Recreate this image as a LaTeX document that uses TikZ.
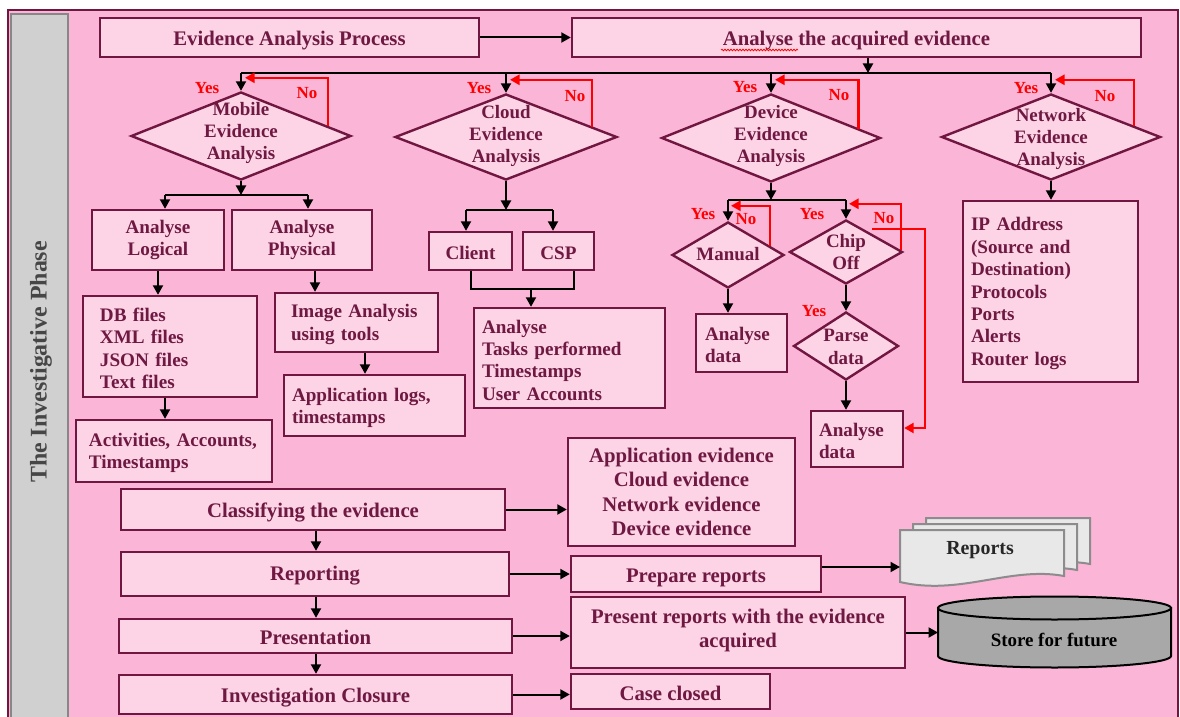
\documentclass[tikz,border=0pt]{standalone}
\usepackage{fontspec}
\setmainfont{Liberation Serif}
\usetikzlibrary{arrows.meta,calc,shapes.geometric,decorations.pathmorphing}
\definecolor{frame}{RGB}{112,22,64}
\definecolor{bg}{RGB}{251,181,214}
\definecolor{fillp}{RGB}{253,212,230}
\definecolor{ink}{RGB}{110,24,66}
\definecolor{sideg}{RGB}{208,208,208}
\definecolor{sideline}{RGB}{135,135,135}
\definecolor{sidetext}{RGB}{70,70,70}
\definecolor{docg}{RGB}{232,232,232}
\definecolor{docline}{RGB}{140,140,140}
\definecolor{cylg}{RGB}{168,168,168}
\tikzset{
  box/.style={draw=frame, line width=2.4bp, fill=fillp, text=ink,
    font=\bfseries\fontsize{19.2}{22.5}\selectfont, inner sep=0pt, align=center,
    execute at begin node={\rule{0pt}{17.5bp}}},
  lbox/.style={box, align=left},
  big/.style={font=\bfseries\fontsize{20.8}{24.5}\selectfont},
  low/.style={text height=16bp, text depth=0bp},
  sz/.style 2 args={minimum width=#1bp, minimum height=#2bp},
  dia/.style={diamond, draw=frame, line width=2.4bp, fill=fillp, inner sep=0pt},
  dtext/.style={text=ink, font=\bfseries\fontsize{19}{22.5}\selectfont, align=center, inner sep=0pt,
    execute at begin node={\rule{0pt}{17.5bp}}},
  yn/.style={text=red, font=\bfseries\fontsize{17}{20}\selectfont, inner sep=0pt},
  wire/.style={draw=black, line width=2bp},
  arr/.style={draw=black, line width=2bp, -{Triangle[length=9.5bp,width=10bp]}},
  noarr/.style={draw=red, line width=2.4bp, -{Triangle[length=9.5bp,width=10bp]}},
  docst/.style={draw=docline, fill=docg, line width=2bp},
}
\begin{document}
\begin{tikzpicture}[x=1bp,y=-1bp]
\useasboundingbox (0,0) rectangle (1180,717);
\fill[white] (0,0) rectangle (1180,717);
% frame and phase column
\draw[draw=frame, line width=2bp, fill=bg] (8,10) rectangle (1178,740);
\draw[draw=sideline, line width=2bp, fill=sideg] (11,14) rectangle (68,740);
\node[rotate=90, text=sidetext, font=\bfseries\fontsize{24}{28}\selectfont, inner sep=0pt] (phase) at (41,362) {The Investigative Phase};

% top row
\node[box,big,low,sz={379}{39}] (evp) at (289.5,37.5) {Evidence Analysis Process};
\node[box,big,low,sz={569}{39}] (acq) at (856.5,37.5) {Analyse the acquired evidence};
\draw[red, line width=0.8bp, decorate, decoration={snake, amplitude=0.8bp, segment length=3bp}] (721,50) -- (798,50);
\draw[arr] (evp) -- (acq);
\coordinate (acqD) at (868,73);
\draw[arr] (acq.south -| acqD) -- (acqD);

% the four analysis decisions
\node[dia, sz={220}{88}] (mob) at (241,136) {};
\node[dtext] (mobT) at (241,133) {Mobile\\Evidence\\Analysis};
\node[dia, sz={222}{86}] (cld) at (506,137) {};
\node[dtext] (cldT) at (506,136) {Cloud\\Evidence\\Analysis};
\node[dia, sz={219}{88}] (dev) at (771,138) {};
\node[dtext] (devT) at (771,136) {Device\\Evidence\\Analysis};
\node[dia, sz={219}{86}] (net) at (1051,137) {};
\node[dtext] (netT) at (1051,139) {Network\\Evidence\\Analysis};

\coordinate (bus1) at (241,73);
\coordinate (bus4) at (1051,73);
\draw[wire] (bus1) -- (bus4);
\foreach \d in {mob,cld,dev,net} \draw[arr] (\d.north |- bus1) -- (\d.north);

\foreach \d/\f in {mob/0.78, cld/0.766, dev/0.79, net/0.75} {
  \coordinate (\d-nos) at ($(\d.north)!\f!(\d.east)$);
  \coordinate (\d-not) at ($(\d.north)+(4,-13)$);
  \draw[noarr] (\d-nos) |- (\d-not);
}
\node[yn] (yM) at (207,88) {Yes};  \node[yn] (nM) at (307,93) {No};
\node[yn] (yC) at (479,88) {Yes};  \node[yn] (nC) at (575,96) {No};
\node[yn] (yD) at (745,87) {Yes};  \node[yn] (nD) at (839,95) {No};
\node[yn] (yN) at (1026,88) {Yes}; \node[yn] (nN) at (1105,96) {No};

% mobile branch
\coordinate (mbus) at (241,195);
\coordinate (mbL) at (165,195);
\coordinate (mbR) at (308,195);
\draw[arr] (mob.south) -- (mbus);
\draw[wire] (mbL) -- (mbR);
\node[box, sz={132}{60}] (logi) at (158,240) {Analyse\\Logical};
\node[box, sz={140}{60}] (phys) at (302,240) {Analyse\\Physical};
\draw[arr] (mbL) -- (mbL |- logi.north);
\draw[arr] (mbR) -- (mbR |- phys.north);
\node[lbox, sz={174}{101}, inner xsep=17bp, text width=140bp] (dbf) at (170,346.5) {DB files\\XML files\\JSON files\\Text files};
\node[lbox, sz={196}{62}, inner xsep=13bp, text width=170bp] (act) at (174,451) {Activities, Accounts,\\Timestamps};
\draw[arr] (logi.south) -- (logi.south |- dbf.north);
\coordinate (dbfD) at ($(dbf.south)+(-5,0)$);
\draw[arr] (dbfD) -- (dbfD |- act.north);
\node[lbox, sz={163}{59}, inner xsep=16bp, text width=131bp] (img) at (356.5,322.5) {Image Analysis\\using tools};
\node[lbox, sz={181}{61}, inner xsep=8bp, text width=165bp] (app) at (374.5,405.5) {Application logs,\\timestamps};
\coordinate (physD) at ($(phys.south)+(13,0)$);
\draw[arr] (physD) -- (physD |- img.north);
\coordinate (imgD) at ($(img.south)+(8.5,0)$);
\draw[arr] (imgD) -- (imgD |- app.north);

% cloud branch
\coordinate (cbus) at (506,210);
\coordinate (cbL) at (466,210);
\coordinate (cbR) at (553,210);
\draw[arr] (cld.south) -- (cbus);
\draw[wire] (cbL) -- (cbR);
\node[box, sz={83}{38}] (cli) at (470.5,251) {Client};
\node[box, sz={71}{38}] (csp) at (558.5,251) {CSP};
\draw[arr] (cbL) -- (cbL |- cli.north);
\draw[arr] (cbR) -- (cbR |- csp.north);
\coordinate (cjR) at (574,289);
\coordinate (cjM) at (531,289);
\draw[wire] (cli.south) |- (cjR) -- (cjR |- csp.south);
\node[lbox, sz={191}{100}, inner xsep=8bp, text width=175bp] (tsk) at (569.5,358) {Analyse\\Tasks performed\\Timestamps\\User Accounts};
\draw[arr] (cjM) -- (cjM |- tsk.north);

% device branch
\coordinate (dbus) at (771,200);
\draw[arr] (dev.south) -- (dbus);
\node[dia, sz={112}{66}] (man) at (728,255) {};
\node[dtext] (manT) at (728,252) {Manual};
\node[dia, sz={113}{64}] (chp) at (846,252) {};
\node[dtext] (chpT) at (846,252) {Chip\\Off};
\draw[wire] (man.north |- dbus) -- (chp.north |- dbus);
\draw[arr] (man.north |- dbus) -- (man.north);
\draw[arr] (chp.north |- dbus) -- (chp.north);
\coordinate (man-nos) at ($(man.north)!0.73!(man.east)$);
\coordinate (man-not) at ($(man.north)+(3,-15)$);
\draw[noarr] (man-nos) |- (man-not);
\coordinate (chp-nos) at ($(chp.north)!0.95!(chp.east)$);
\coordinate (chp-not) at ($(chp.north)+(3,-15)$);
\draw[noarr] (chp-nos) |- (chp-not);
\node[yn] (yMa) at (703,214) {Yes}; \node[yn] (nMa) at (746,219) {No};
\node[yn] (yCh) at (812,214) {Yes}; \node[yn] (nCh) at (884,218) {No};

\node[lbox, sz={91}{58}, inner xsep=9bp, text width=73bp] (ana1) at (741.5,343) {Analyse\\data};
\draw[arr] (man.south) -- (man.south |- ana1.north);
\node[dia, sz={105}{68}] (prs) at (846,346) {};
\node[dtext] (prsT) at (846,347) {Parse\\data};
\draw[arr] (chp.south) -- (prs.north);
\node[yn] (yPa) at (814,311) {Yes};
\node[lbox, sz={92}{56}, inner xsep=8bp, text width=76bp] (ana2) at (857,439) {Analyse\\data};
\draw[arr] (prs.south) -- (prs.south |- ana2.north);
\coordinate (chpR) at (872,229);
\coordinate (chpC) at (925,229);
\coordinate (ana2In) at ($(ana2.east)+(0,-11)$);
\draw[noarr] (chpR) -- (chpC) |- (ana2In);

% network branch
\node[lbox, sz={175}{181}, inner xsep=8bp, text width=159bp] (nbx) at (1050.5,291.5) {IP Address\\(Source and\\Destination)\\Protocols\\Ports\\Alerts\\Router logs};
\draw[arr] (net.south) -- (net.south |- nbx.north);

% closing stages
\node[box,big,low,sz={384}{41}] (cls) at (313,509.5) {Classifying the evidence};
\node[box,big,sz={388}{44}] (rep) at (315,574) {Reporting};
\node[box,big,low,sz={393}{34}] (pre) at (315.5,636) {Presentation};
\node[box,big,low,sz={393}{39}] (inv) at (315.5,694.5) {Investigation Closure};
\coordinate (vx) at (316,0);
\draw[arr] (cls.south -| vx) -- (rep.north -| vx);
\draw[arr] (rep.south -| vx) -- (pre.north -| vx);
\draw[arr] (pre.south -| vx) -- (inv.north -| vx);

\node[box,big,sz={227}{108}] (evl) at (681.5,492) {Application evidence\\Cloud evidence\\Network evidence\\Device evidence};
\node[box,big,low,sz={250}{36}] (prp) at (696,574) {Prepare reports};
\node[box,big,sz={334}{71}, execute at begin node={}] (pst) at (738,632.5) {Present reports with the evidence\\acquired\rule[-8bp]{0pt}{0pt}};
\node[box,big,sz={199}{35}] (cc) at (670.5,691.5) {Case closed};
\draw[arr] (cls.east) -- (cls.east -| evl.west);
\draw[arr] (rep.east) -- (rep.east -| prp.west);
\draw[arr] (pre.east) -- (pre.east -| pst.west);
\draw[arr] (inv.east) -- (inv.east -| cc.west);

% stacked report pages
\foreach \px/\py in {926/518, 913/524, 900/530}
  \draw[docst, shift={(\px,\py)}] (0,0) -- (164,0) -- (164,46) .. controls (110,36) and (60,66) .. (0,52) -- cycle;
\node[text=black!85, font=\bfseries\fontsize{20}{24}\selectfont, inner sep=0pt] (rpt) at (980,550) {Reports};
\coordinate (rptW) at (900,567);
\draw[arr] (prp.east |- rptW) -- (rptW);

% storage cylinder
\filldraw[draw=black, line width=2bp, fill=cylg] (938,608) -- (938,656)
  arc[start angle=180, end angle=360, x radius=116.5bp, y radius=11.5bp] -- (1171,608) -- cycle;
\filldraw[draw=black, line width=2bp, fill=cylg] (1054.5,608) ellipse [x radius=116.5bp, y radius=11.5bp];
\node[text=black, font=\bfseries\fontsize{19}{22}\selectfont, inner sep=0pt] (sto) at (1054,640) {Store for future};
\coordinate (stoW) at (938,629);
\draw[arr] (pst.east) -- (pst.east -| stoW);
\end{tikzpicture}
\end{document}
